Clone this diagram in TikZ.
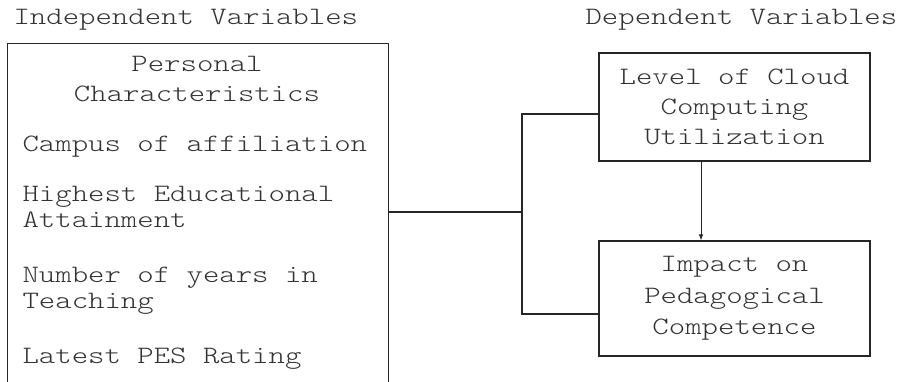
\documentclass[tikz,border=0pt]{standalone}
\usepackage{fontspec}
\setmainfont[FakeStretch=1.25]{Latin Modern Mono Light}
\usetikzlibrary{arrows.meta,positioning,calc}

\begin{document}
\begin{tikzpicture}[>=Latex,x=1pt,y=-1pt,line width=1.1pt,draw=black!85,
  varbox/.style={draw,inner sep=0pt,minimum width=271pt,align=center,text=black!80,
    font=\fontsize{25}{30}\selectfont},
  item/.style={anchor=base west,inner sep=0pt,text=black!80,font=\fontsize{25}{30}\selectfont}]
\useasboundingbox (0,0) rectangle (904,382);
% headings
\node[item] (ivtitle) at (13,25) {Independent Variables};
\node[item] (dvtitle) at (585,25) {Dependent Variables};
% independent variables
\node[draw,inner sep=0pt,minimum width=381pt,minimum height=352pt,anchor=north west] (iv) at (7,43) {};
\node[item,anchor=base] (pers) at (197,72) {Personal};
\node[item,anchor=base] (chars) at (197,102) {Characteristics};
\foreach \y/\t in {152/Campus of affiliation,201/Highest Educational,227/Attainment,
  282/Number of years in,308/Teaching,363/Latest PES Rating}
  \node[item] (line\y) at (22,\y) {\t};
% dependent variables
\node[varbox,minimum height=108pt] (cloud) at (734.5,107) {Level of Cloud\\Computing\\Utilization};
\node[varbox,minimum height=115pt,font=\fontsize{25}{31.5}\selectfont] (impact) at (734.5,298.5)
  {Impact on\\Pedagogical\\Competence};
% connectors
\coordinate (hub) at (522,212);
\coordinate (hubtop) at (522,114);
\coordinate (hubbot) at (522,314);
\draw (iv.east |- hub) -- (hub);
\draw (hubtop -| cloud.west) -- (hubtop) -- (hubbot) -- (hubbot -| impact.west);
\draw[->,line width=0.9pt,-{Latex[length=6pt,width=4.5pt]}] ([xshift=-33.5pt]cloud.south) -- ([xshift=-33.5pt]impact.north);
\end{tikzpicture}
\end{document}
